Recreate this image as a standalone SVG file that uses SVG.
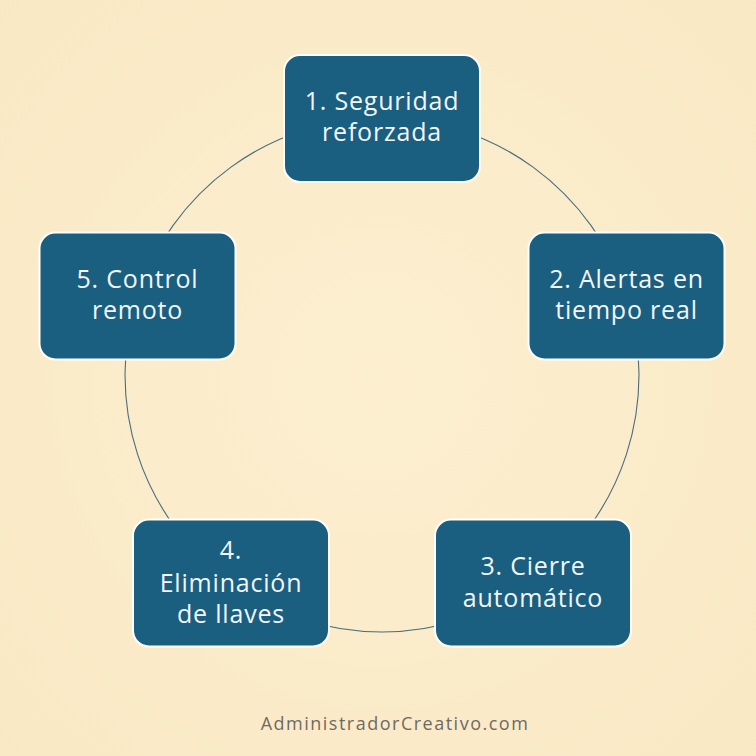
<svg xmlns="http://www.w3.org/2000/svg" width="756" height="756" viewBox="0 0 756 756">
<defs>
<radialGradient id="bg" cx="50%" cy="50%" r="75%">
<stop offset="0" stop-color="#fcefd0"/>
<stop offset="1" stop-color="#f9e8c3"/>
</radialGradient>
<style>
.node rect{fill:#1a5e80;stroke:#ffffff;stroke-width:2}
.node text{font-family:"Open Sans","Liberation Sans",sans-serif;font-size:25px;fill:#f2f6f9;text-anchor:middle;letter-spacing:0.8px}
.conn path{fill:none;stroke:#4b6d7a;stroke-width:1.1}
.footer{font-family:"Open Sans","Liberation Sans",sans-serif;font-size:18px;fill:#6e6a64;text-anchor:middle;letter-spacing:1.5px}
</style>
</defs>
<rect width="756" height="756" fill="url(#bg)"/>
<g id="connectors" class="conn">
<path d="M382 118 A257 257 0 0 1 626.4 295.6"/>
<path d="M626.4 295.6 A257 257 0 0 1 533.1 582.9"/>
<path d="M533.1 582.9 A257 257 0 0 1 230.9 582.9"/>
<path d="M230.9 582.9 A257 257 0 0 1 137.6 295.6"/>
<path d="M137.6 295.6 A257 257 0 0 1 382 118"/>
</g>
<g id="node1" class="node">
<rect x="284" y="55" width="196" height="127" rx="16"/>
<text x="382" y="110">1. Seguridad</text>
<text x="382" y="141">reforzada</text>
</g>
<g id="node2" class="node">
<rect x="528.5" y="232.5" width="196" height="127" rx="16"/>
<text x="626.5" y="288">2. Alertas en</text>
<text x="626.5" y="319">tiempo real</text>
</g>
<g id="node3" class="node">
<rect x="435" y="519.5" width="196" height="127" rx="16"/>
<text x="533" y="575">3. Cierre</text>
<text x="533" y="607">automático</text>
</g>
<g id="node4" class="node">
<rect x="133" y="519.5" width="196" height="127" rx="16"/>
<text x="231" y="559">4.</text>
<text x="231" y="592">Eliminación</text>
<text x="231" y="623">de llaves</text>
</g>
<g id="node5" class="node">
<rect x="39.5" y="232.5" width="196" height="127" rx="16"/>
<text x="137.5" y="288">5. Control</text>
<text x="137.5" y="319">remoto</text>
</g>
<text class="footer" x="395" y="730">AdministradorCreativo.com</text>
</svg>
